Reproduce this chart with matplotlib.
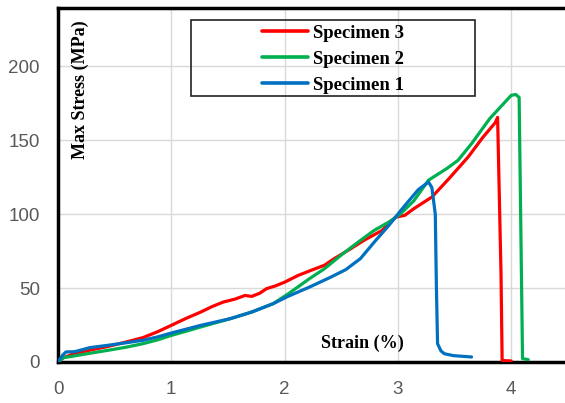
import matplotlib
matplotlib.use("Agg")
import matplotlib.pyplot as plt
from matplotlib.patches import Rectangle

# Specimen 3 (red)
s3_strain = [0.0, 0.05, 0.12, 0.25, 0.44, 0.6, 0.75, 0.88, 1.0, 1.13, 1.26, 1.36, 1.46, 1.56, 1.65, 1.71, 1.78, 1.84, 1.92,
             2.0, 2.12, 2.25, 2.35, 2.44, 2.57, 2.70, 2.86, 2.98, 3.06, 3.14, 3.30, 3.45, 3.62, 3.75, 3.86, 3.88,
             3.91, 3.92, 4.0]
s3_stress = [0.0, 3.0, 5.0, 7.5, 10.5, 13.5, 16.5, 20.5, 24.8, 29.5, 33.8, 37.5, 40.6, 42.5, 45.0, 44.4, 46.5, 49.6, 51.5,
             54.0, 58.6, 62.5, 65.4, 70.0, 76.0, 82.3, 89.0, 98.0, 99.2, 103.7, 111.6, 124.0, 138.7, 152.0, 162.0, 165.5,
             60.0, 1.0, 0.7]

# Specimen 2 (green)
s2_strain = [0.0, 0.05, 0.12, 0.25, 0.44, 0.6, 0.75, 0.88, 1.0, 1.13, 1.26, 1.52, 1.71, 1.90, 2.03, 2.22, 2.35, 2.51, 2.67,
             2.79, 2.92, 3.02, 3.14, 3.27, 3.43, 3.53, 3.65, 3.81, 4.0, 4.04, 4.07, 4.10, 4.15]
s2_stress = [0.0, 3.0, 3.8, 5.5, 7.9, 10.0, 12.4, 15.0, 18.0, 20.8, 23.7, 29.3, 33.8, 39.5, 46.0, 56.4, 63.0, 73.0, 82.3,
             89.0, 94.7, 100.0, 109.0, 123.0, 130.8, 136.4, 147.7, 164.6, 180.4, 181.0, 179.0, 2.3, 1.6]

# Specimen 1 (blue)
s1_strain = [0.0, 0.04, 0.07, 0.15, 0.28, 0.44, 0.6, 0.75, 0.88, 1.0, 1.13, 1.26, 1.52, 1.71, 1.90, 2.03, 2.22, 2.41, 2.54,
             2.67, 2.79, 2.92, 3.05, 3.18, 3.27, 3.30, 3.33, 3.34, 3.35, 3.38, 3.41, 3.49, 3.65]
s1_stress = [0.0, 4.5, 6.8, 7.0, 9.7, 11.3, 13.0, 14.7, 17.0, 19.6, 22.2, 24.8, 29.3, 33.8, 39.5, 44.4, 50.7, 57.5, 62.5,
             70.0, 81.0, 92.4, 104.8, 116.6, 121.8, 118.0, 100.0, 50.0, 12.4, 7.5, 5.6, 4.3, 3.4]

labels = ["Specimen 3", "Specimen 2", "Specimen 1"]
colors = ["#FF0000", "#00B050", "#0070C0"]
xticks = [0, 1, 2, 3, 4]
yticks = [0, 50, 100, 150, 200]

W, H = 565, 403
fig = plt.figure(figsize=(W / 100, H / 100), dpi=100)
ax = fig.add_axes([58 / W, 1 - 362 / H, 4.5 * 113.3 / W, (362 - 8) / H])

for xs, ys, c, lab in zip([s3_strain, s2_strain, s1_strain], [s3_stress, s2_stress, s1_stress], colors, labels):
    ax.plot(xs, ys, color=c, lw=2.3, label=lab, solid_joinstyle="round", solid_capstyle="round", zorder=3)

ax.set_xlim(0, 4.5)
ax.set_ylim(0, 239.5)
ax.set_xticks(xticks)
ax.set_yticks(yticks)
ax.grid(True, color="#D9D9D9", lw=1.0)
ax.set_axisbelow(True)
for sp in ["left", "top", "bottom"]:
    ax.spines[sp].set_linewidth(2.5)
    ax.spines[sp].set_color("black")
ax.spines["right"].set_visible(False)
ax.tick_params(length=0, labelsize=13.5, labelcolor="#595959")
ax.tick_params(axis="y", pad=13)
ax.tick_params(axis="x", pad=14)
for t in ax.get_xticklabels() + ax.get_yticklabels():
    t.set_fontfamily("Liberation Sans")

serif = dict(family="Liberation Serif", weight="bold", fontsize=13)
fig.text(80 / W, 1 - 90 / H, "Max Stress (MPa)", rotation=90, ha="center", va="center", **serif)
fig.text(362 / W, 1 - 343 / H, "Strain (%)", ha="center", va="center", **serif)

leg = ax.legend(loc="upper left", bbox_to_anchor=(262 / W, 1 - 24.5 / H), bbox_transform=fig.transFigure,
                frameon=False, borderpad=0, borderaxespad=0, handlelength=2.45, handletextpad=0.25,
                labelspacing=0.47, prop=dict(family="Liberation Serif", weight="bold", size=13.5))
for line in leg.get_lines():
    line.set_linewidth(2.6)
fig.patches.append(Rectangle((191 / W, 1 - 96 / H), 284 / W, 76 / H, transform=fig.transFigure,
                             fill=False, ec="#222222", lw=1.2))

fig.savefig("out.png", dpi=100)
